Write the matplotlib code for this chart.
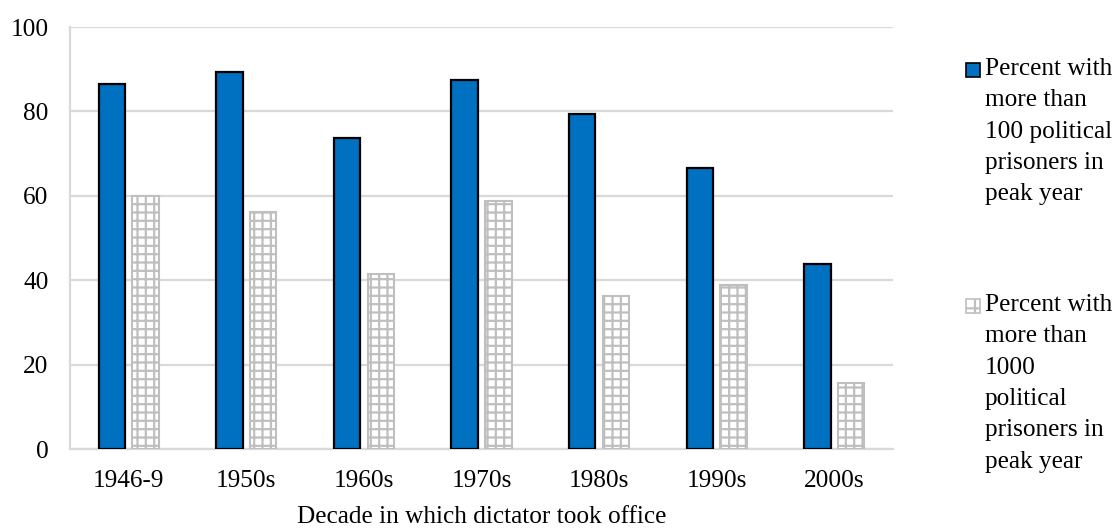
import matplotlib
matplotlib.use("Agg")
import matplotlib.pyplot as plt
from matplotlib.patches import Rectangle
import numpy as np

# Share of dictatorships by decade the dictator took office
decades = ["1946-9", "1950s", "1960s", "1970s", "1980s", "1990s", "2000s"]
pct_over_100 = [86.5, 89.4, 73.8, 87.4, 79.5, 66.7, 43.8]
pct_over_1000 = [60.0, 56.1, 41.5, 58.8, 36.3, 38.8, 15.6]
series_labels = [
    "Percent with\nmore than\n100 political\nprisoners in\npeak year",
    "Percent with\nmore than\n1000\npolitical\nprisoners in\npeak year",
]
y_ticks = [0, 20, 40, 60, 80, 100]
x_title = "Decade in which dictator took office"

plt.rcParams["font.family"] = ["Liberation Serif", "DejaVu Serif"]
plt.rcParams["hatch.linewidth"] = 1.6
FS = 18.2
BLUE = "#0070C0"
GREY = "#BFBFBF"
GRID = "#D9D9D9"

fig = plt.figure(figsize=(11.18, 5.32), dpi=100)
ax = fig.add_axes([70 / 1118, 1 - 449 / 532, 823 / 1118, 422 / 532])

x = np.arange(len(decades))
w = 0.225
ax.bar(x - 0.143, pct_over_100, width=w, color=BLUE, edgecolor="black",
       linewidth=1.6, zorder=3)
ax.bar(x + 0.143, pct_over_1000, width=w, color="white", edgecolor=GREY,
       hatch="++", linewidth=1.5, zorder=3)

ax.set_xlim(-0.5, len(decades) - 0.5)
ax.set_ylim(0, 100)
ax.set_yticks(y_ticks)
ax.set_xticks(x)
ax.set_xticklabels(decades)
ax.tick_params(axis="both", length=0, labelsize=FS, colors="black")
ax.tick_params(axis="y", pad=15.5)
ax.tick_params(axis="x", pad=15)
ax.grid(axis="y", color=GRID, linewidth=1.6, zorder=0)
for side in ("top", "right"):
    ax.spines[side].set_visible(False)
for side in ("left", "bottom"):
    ax.spines[side].set_color(GRID)
    ax.spines[side].set_linewidth(1.6)
ax.set_xlabel(x_title, fontsize=FS, labelpad=10)

# Legend drawn at the right, marker aligned with the first line of each label
W, H = 1118, 532
entries = [
    (70, dict(facecolor=BLUE, edgecolor="black", linewidth=1.2)),
    (306, dict(facecolor="white", edgecolor=GREY, hatch="+", linewidth=1.2)),
]
for (yc, style), label in zip(entries, series_labels):
    fig.patches.append(Rectangle((966 / W, 1 - (yc + 7) / H), 14 / W, 14 / H,
                                 transform=fig.transFigure, **style))
    fig.text(985 / W, 1 - (yc - 12) / H, label, fontsize=FS, va="top",
             ha="left", linespacing=1.55)

fig.savefig("out.png", dpi=100)
